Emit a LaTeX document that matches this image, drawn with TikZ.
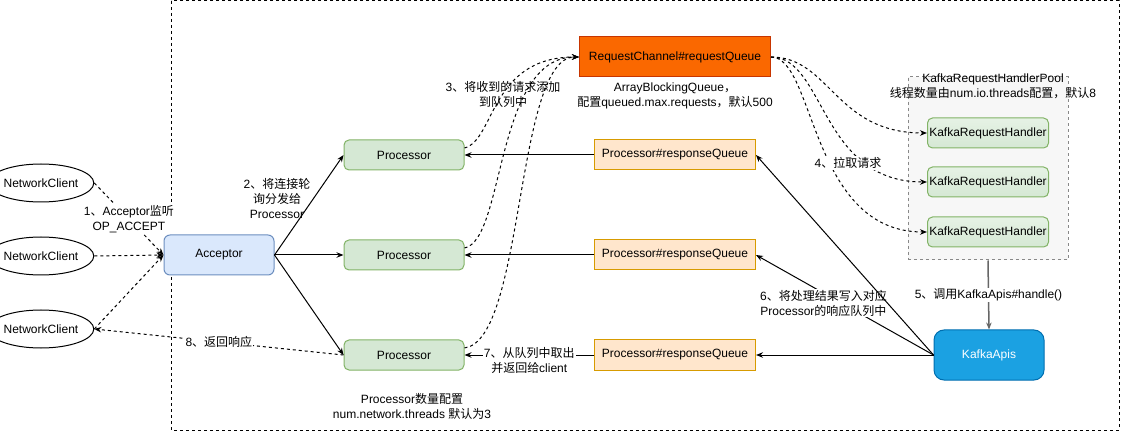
\documentclass[tikz,border=0pt]{standalone}
\usepackage{fontspec}
\setmainfont{Liberation Sans}
\newfontfamily\zh{Noto Sans CJK SC}
\usetikzlibrary{arrows.meta,shapes.geometric}

\definecolor{accfill}{HTML}{DAE8FC}
\definecolor{accline}{HTML}{6C8EBF}
\definecolor{procfill}{HTML}{D5E8D4}
\definecolor{proctop}{HTML}{E6F2E5}
\definecolor{procline}{HTML}{82B366}
\definecolor{rqfill}{HTML}{FFE6CC}
\definecolor{rqline}{HTML}{D79B00}
\definecolor{chanfill}{HTML}{FA6800}
\definecolor{chanline}{HTML}{C73500}
\definecolor{apifill}{HTML}{1BA1E2}
\definecolor{apiline}{HTML}{006EAF}
\definecolor{poolfill}{HTML}{F7F7F7}
\definecolor{poolline}{HTML}{888888}

\begin{document}
\begin{tikzpicture}[x=1pt, y=-1pt, line width=1pt, >={Stealth[length=7pt,width=5.5pt]},
        every node/.style={font=\fontsize{12}{15}\selectfont, inner sep=1pt},
        client/.style={draw, ellipse, minimum width=82pt, minimum height=38pt, inner sep=0pt},
        acc/.style={draw=accline, fill=accfill, rounded corners=6pt, minimum width=110pt, minimum height=40pt},
        proc/.style={draw=procline, fill=procfill, rounded corners=5pt, minimum width=120pt, minimum height=30pt},
        respq/.style={draw=rqline, fill=rqfill, minimum width=161pt, minimum height=30pt},
        chan/.style={draw=chanline, fill=chanfill, minimum width=191pt, minimum height=40pt},
        pool/.style={draw=poolline, fill=poolfill, dashed, minimum width=160pt, minimum height=183pt},
        handler/.style={draw=procline, top color=proctop, bottom color=procfill, rounded corners=5pt, minimum width=121pt, minimum height=30pt},
        api/.style={draw=apiline, fill=apifill, text=white, rounded corners=10pt, minimum width=110pt, minimum height=50pt},
        flow/.style={->, dash pattern=on 3pt off 3pt},
        lbl/.style={align=center, fill=white},
        note/.style={align=center}]
    \useasboundingbox (0,0) rectangle (1121,435);
    \draw[dash pattern=on 3pt off 3pt] (171,1) rectangle (1119,430);

    % clients and acceptor
    \node[client] (nc1) at (41,183) {NetworkClient};
    \node[client] (nc2) at (41,256) {NetworkClient};
    \node[client] (nc3) at (41,329) {NetworkClient};
    \node[acc] (acc) at (219,255) {Acceptor};

    % processors and queues
    \node[proc] (p1) at (404,155) {Processor};
    \node[proc] (p2) at (404,255) {Processor};
    \node[proc] (p3) at (404,355) {Processor};
    \node[respq] (rq1) at (675,155) {Processor\#responseQueue};
    \node[respq] (rq2) at (675,255) {Processor\#responseQueue};
    \node[respq] (rq3) at (675,355) {Processor\#responseQueue};
    \node[chan] (chan) at (675,57) {RequestChannel\#requestQueue};

    % handler pool
    \node[pool] (pool) at (988,168.5) {};
    \node[note] (pooltitle) at (993,86) {KafkaRequestHandlerPool\\{\zh 线程数量由}num.io.threads{\zh 配置，默认}8};
    \node[handler] (h1) at (988,133) {KafkaRequestHandler};
    \node[handler] (h2) at (988,182) {KafkaRequestHandler};
    \node[handler] (h3) at (988,232) {KafkaRequestHandler};
    \node[api] (kapi) at (989,355) {KafkaApis};

    % notes
    \node[note] (step2) at (277,199) {2{\zh 、将连接轮}\\{\zh 询分发给}\\Processor};
    \node[note] (step3) at (503,94) {3{\zh 、将收到的请求添加}\\{\zh 到队列中}};
    \node[note] (channote) at (675,95.5) {ArrayBlockingQueue{\zh ，}\\{\zh 配置}queued.max.requests{\zh ，默认}500};
    \node[note] (procnote) at (412,406) {Processor{\zh 数量配置}\\num.network.threads {\zh 默认为}3};

    % connections
    \draw[flow] (nc1.east) -- node[lbl] {1{\zh 、}Acceptor{\zh 监听}\\OP\_ACCEPT} (acc.west);
    \draw[flow] (nc2.east) -- (acc.west);
    \draw[flow] (nc3.east) -- (acc.west);
    \draw[flow] (p3.west) -- node[lbl] {8{\zh 、返回响应}} (nc3.east);
    \draw[->] (acc.east) -- (p1.west);
    \draw[->] (acc.east) -- (p2.west);
    \draw[->] (acc.east) -- (p3.west);

    \draw[flow] ([yshift=7pt]p1.east) .. controls (495,140) and (490,57) .. (chan.west);
    \draw[flow] ([yshift=7pt]p2.east) .. controls (505,240) and (495,57) .. (chan.west);
    \draw[flow] ([yshift=7pt]p3.east) .. controls (525,340) and (515,57) .. (chan.west);

    \draw[flow] (chan.east) .. controls (830,57) and (835,133) .. (h1.west);
    \draw[flow] (chan.east) .. controls (825,57) and (820,182) .. (h2.west);
    \draw[flow] (chan.east) .. controls (815,57) and (810,232) .. (h3.west);
    \node[lbl] (step4) at (848,163) {4{\zh 、拉取请求}};

    \draw[->, draw=black!60, line width=1.5pt] (pool.south) -- node[lbl] {5{\zh 、调用}KafkaApis\#handle()} (kapi.north);

    \draw[->] (kapi.west) -- (rq3.east);
    \draw[->] (kapi.west) -- node[lbl, pos=0.62, yshift=-10pt] {6{\zh 、将处理结果写入对应}\\Processor{\zh 的响应队列中}} (rq2.east);
    \draw[->] (kapi.west) -- (rq1.east);

    \draw[->] (rq1.west) -- (p1.east);
    \draw[->] (rq2.west) -- (p2.east);
    \draw[->] (rq3.west) -- node[lbl, yshift=-5pt] {7{\zh 、从队列中取出}\\{\zh 并返回给}client} (p3.east);
\end{tikzpicture}
\end{document}
